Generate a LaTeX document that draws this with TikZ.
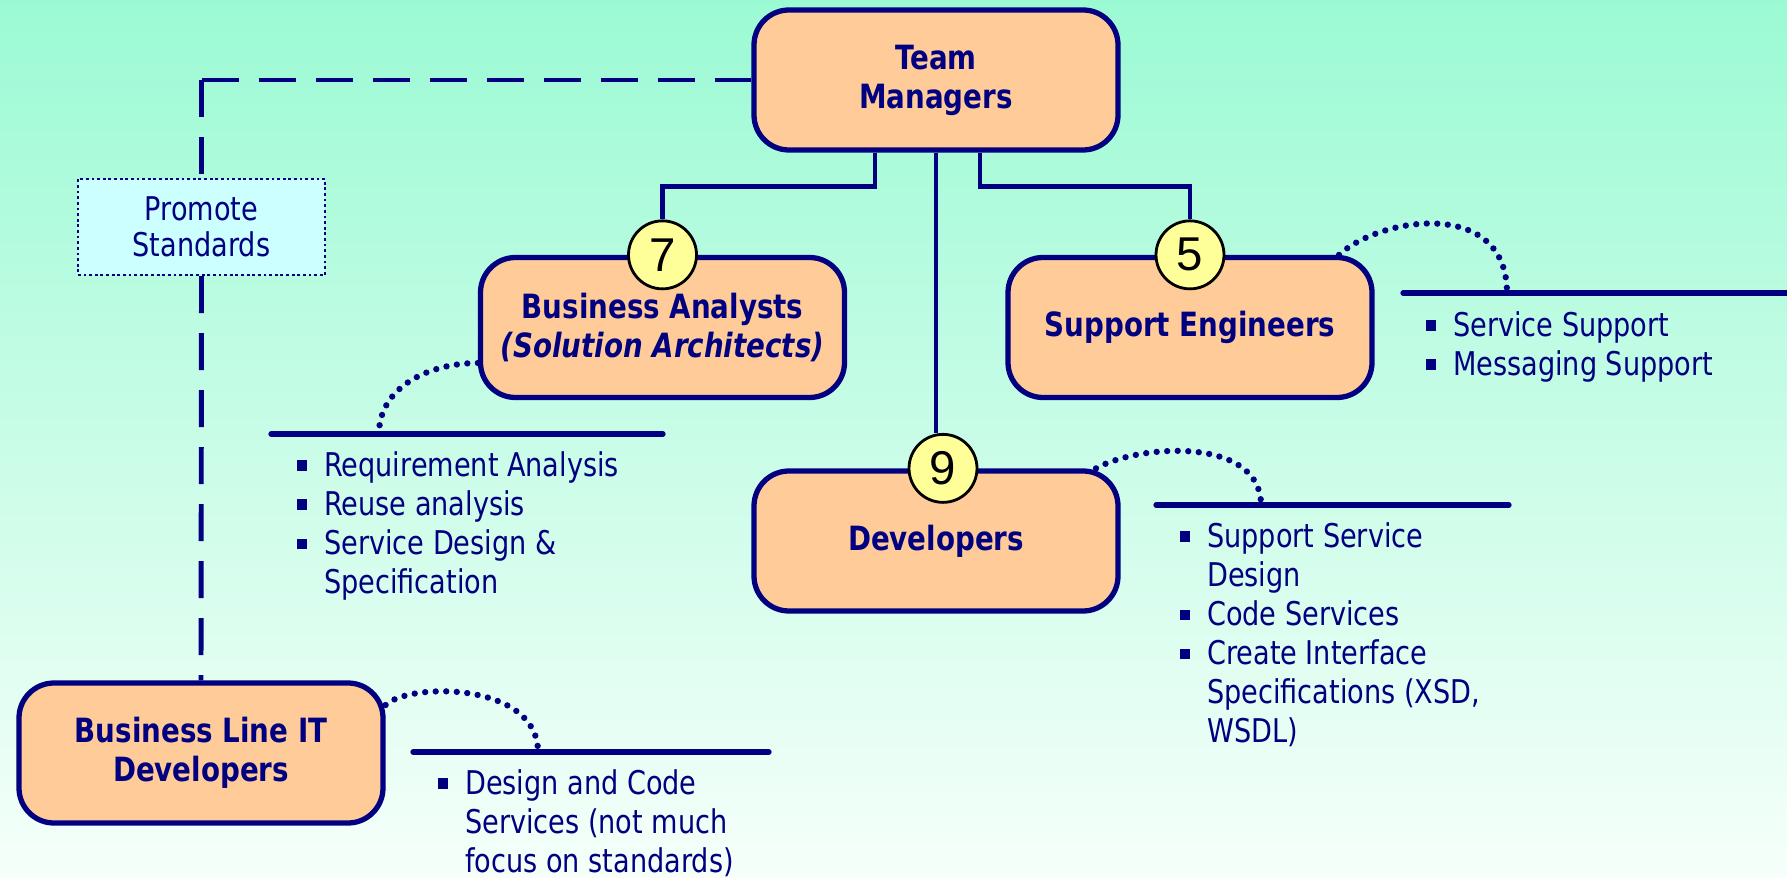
\documentclass[tikz,border=0pt]{standalone}
\usepackage{fontspec}
\setmainfont{DejaVu Sans}[FakeStretch=0.83]
\newfontfamily\numfont{Liberation Sans}
\usepackage{tikz}

\definecolor{navy}{RGB}{0,0,128}
\definecolor{peach}{RGB}{255,204,153}
\definecolor{lemon}{RGB}{255,255,153}
\definecolor{paleblue}{RGB}{204,255,255}
\definecolor{mint}{RGB}{155,250,212}
\definecolor{mintwhite}{RGB}{246,255,250}

% square bullet for the task lists
\newcommand{\bul}{\rule[0.16em]{0.32em}{0.32em}}

\begin{document}
\begin{tikzpicture}[font=\fontsize{9.3}{11.15}\selectfont]
		\useasboundingbox (0,0) rectangle (17.87,8.77);
		\shade[top color=mint,bottom color=mintwhite] (0,0) rectangle (17.87,8.77);
		\tikzstyle{role}=[rectangle,rounded corners=0.35cm,draw=navy,line width=1.5pt,fill=peach,minimum width=3.64cm,minimum height=1.40cm,align=center,text=navy,font=\fontsize{9.5}{11.1}\selectfont\bfseries]
		\tikzstyle{count}=[circle,draw=black,fill=lemon,line width=0.8pt,minimum size=0.68cm,inner sep=0pt,font=\numfont\fontsize{13.5}{13.5}\selectfont]
		\tikzstyle{note}=[rectangle,draw=navy,line width=0.7pt,dash pattern=on 0.8pt off 0.8pt,fill=paleblue,minimum width=2.47cm,minimum height=0.96cm,align=center,text=navy,font=\fontsize{9.3}{10.3}\selectfont]
		\tikzstyle{list}=[anchor=base west,inner sep=0pt,text=navy]
		\tikzstyle{link}=[draw=navy,line width=1.4pt]
		\tikzstyle{dashlink}=[draw=navy,line width=1.4pt,dash pattern=on 0.37cm off 0.2cm]
		\tikzstyle{dotlink}=[draw=navy,line width=1.8pt,line cap=round,dash pattern=on 0pt off 3pt]
		\tikzstyle{shelf}=[draw=navy,line width=1.5pt,line cap=round]
		% the five groups
		\node[role] (tm) at (9.36,7.97) {Team\\Managers};
		\node[role] (ba) at (6.625,5.495) {Business Analysts\\\textit{(Solution Architects)}};
		\node[role] (se) at (11.90,5.495) {Support Engineers};
		\node[role] (dev) at (9.36,3.36) {Developers};
		\node[role] (blit) at (2.01,1.24) {Business Line IT\\Developers};
		\node[note] (promote) at (2.015,6.50) {Promote\\Standards};
		% head counts
		\node[count] (c_7) at (ba.north) {7};
		\node[count] (c_5) at (se.north) {5};
		\node[count] (c_9) at ([xshift=0.07cm]dev.north) {9};
		% reporting lines
		\draw[link] ([xshift=-0.61cm]tm.south) -- ++(0,-0.34) -| (c_7);
		\draw[link] (tm.south) -- (tm.south |- c_9.north);
		\draw[link] ([xshift=0.44cm]tm.south) -- ++(0,-0.34) -| (c_5);
		\coordinate (bend) at (promote.north |- tm.west);
		\draw[dashlink] (bend) -- (tm.west);
		\draw[dashlink] (bend) -- (promote.north);
		\draw[dashlink] (promote.south) -- (blit.north);
		% callouts
		\coordinate (ba_a) at (2.71,4.43);
		\coordinate (ba_b) at (6.63,4.43);
		\coordinate (ba_t) at (3.79,4.43);
		\draw[shelf] (ba_a) -- (ba_b);
		\draw[dotlink] ([yshift=-0.355cm]ba.west) to[out=180,in=90] (ba_t);
		\coordinate (se_a) at (14.03,5.84);
		\coordinate (se_b) at (17.87,5.84);
		\coordinate (se_t) at (15.07,5.84);
		\draw[shelf] (se_a) -- (se_b);
		\draw[dotlink] ([xshift=1.49cm]se.north) .. controls +(0.41,0.38) and +(0,0.96) .. (se_t);
		\coordinate (dev_a) at (11.56,3.72);
		\coordinate (dev_b) at (15.09,3.72);
		\coordinate (dev_t) at (12.61,3.72);
		\draw[shelf] (dev_a) -- (dev_b);
		\draw[dotlink] ([xshift=1.6cm]dev.north) .. controls +(0.45,0.25) and +(0,0.68) .. (dev_t);
		\coordinate (blit_a) at (4.13,1.25);
		\coordinate (blit_b) at (7.69,1.25);
		\coordinate (blit_t) at (5.38,1.25);
		\draw[shelf] (blit_a) -- (blit_b);
		\draw[dotlink] ([yshift=0.48cm]blit.east) .. controls +(0.24,0.23) and +(0,0.70) .. (blit_t);
		% task lists
		\node[list] (ba_list) at (2.96,4.01) {\begin{tabular}[t]{@{}l@{\hspace{0.17cm}}l@{}}
			\bul & Requirement Analysis\\
			\bul & Reuse analysis\\
			\bul & Service Design \&\\
			& Specification\end{tabular}};
		\node[list] (se_list) at (14.25,5.41) {\begin{tabular}[t]{@{}l@{\hspace{0.17cm}}l@{}}
			\bul & Service Support\\
			\bul & Messaging Support\end{tabular}};
		\node[list] (dev_list) at (11.79,3.30) {\begin{tabular}[t]{@{}l@{\hspace{0.17cm}}l@{}}
			\bul & Support Service\\
			& Design\\
			\bul & Code Services\\
			\bul & Create Interface\\
			& Specifications (XSD,\\
			& WSDL)\end{tabular}};
		\node[list] (blit_list) at (4.37,0.83) {\begin{tabular}[t]{@{}l@{\hspace{0.17cm}}l@{}}
			\bul & Design and Code\\
			& Services (not much\\
			& focus on standards)\end{tabular}};
	\end{tikzpicture}
\end{document}
